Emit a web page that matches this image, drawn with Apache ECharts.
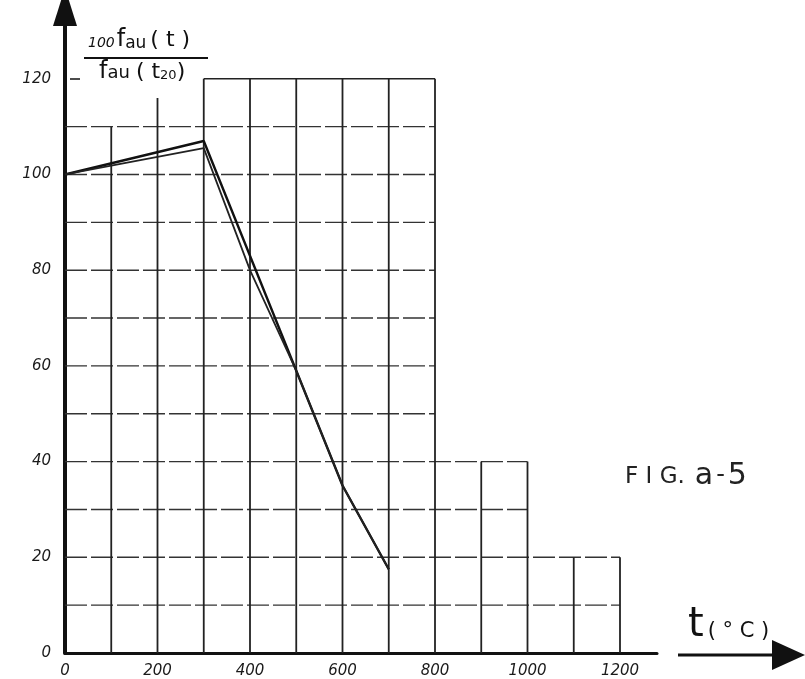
<!DOCTYPE html>
<html>
<head>
<meta charset="utf-8">
<script src="https://cdn.jsdelivr.net/npm/echarts@6/dist/echarts.min.js"></script>
<style>html,body{margin:0;padding:0;background:#fff}#c{width:805px;height:679px}</style>
</head>
<body>
<div id="c"></div>
<script>
// ---- data ----
const temps1 = [0, 300, 600, 700];
const ratio1 = [100, 107, 35, 17.5];
const temps2 = [0, 300, 400, 500, 600, 700];
const ratio2 = [100, 105.5, 80, 59, 35, 17.5];

const xTicks = [0, 200, 400, 600, 800, 1000, 1200];
const yTicks = [0, 20, 40, 60, 80, 100, 120];

// grid drawn on the sheet (stepped outline)
const vLineX   = [100, 200, 300, 400, 500, 600, 700, 800, 900, 1000, 1100, 1200];
const vLineTop = [110, 116, 120, 120, 120, 120, 120, 120, 40, 40, 20, 20];
const hLineY    = [10, 20, 30, 40, 50, 60, 70, 80, 90, 100, 110];
const hLineFrom = [0, 0, 0, 0, 0, 0, 0, 0, 0, 0, 0];
const hLineTo   = [1200, 1200, 1000, 1000, 800, 800, 800, 800, 800, 800, 800];
const topLineY = [120], topLineFrom = [300], topLineTo = [800];

const s1 = temps1.map((t, i) => [t, ratio1[i]]);
const s2 = temps2.map((t, i) => [t, ratio2[i]]);
const vSeg = vLineX.map((x, i) => [x, 0, x, vLineTop[i]]);
const hSeg = hLineY.map((y, i) => [hLineFrom[i], y, hLineTo[i], y]);
const tSeg = topLineY.map((y, i) => [topLineFrom[i], y, topLineTo[i], y]);

function segRender(dash, width, color) {
  return function (params, api) {
    const p1 = api.coord([api.value(0), api.value(1)]);
    const p2 = api.coord([api.value(2), api.value(3)]);
    return {
      type: 'line',
      shape: { x1: p1[0], y1: p1[1], x2: p2[0], y2: p2[1] },
      style: { stroke: color, lineWidth: width, lineDash: dash }
    };
  };
}

const chart = echarts.init(document.getElementById('c'));
const labelFont = { fontFamily: 'DejaVu Sans', fontStyle: 'italic', fontSize: 15, color: '#1a1a1a' };

chart.setOption({
  animation: false,
  backgroundColor: '#ffffff',
  grid: { left: 65, right: 148, top: 7, bottom: 26, containLabel: false },
  xAxis: {
    type: 'value', min: 0, max: 1280, interval: 200,
    axisLine: { show: true, lineStyle: { color: '#111', width: 3 } },
    axisTick: { show: false },
    splitLine: { show: false },
    axisLabel: Object.assign({ margin: 11, showMaxLabel: false,
      formatter: v => (xTicks.indexOf(v) >= 0 ? String(v) : '') }, labelFont)
  },
  yAxis: {
    type: 'value', min: 0, max: 135, interval: 20,
    axisLine: { show: true, symbol: ['none', 'triangle'], symbolSize: [24, 38],
      lineStyle: { color: '#111', width: 4 } },
    axisTick: { show: false },
    splitLine: { show: false },
    axisLabel: Object.assign({ margin: 14, showMaxLabel: false,
      formatter: v => (yTicks.indexOf(v) >= 0 ? String(v) : '') }, labelFont)
  },
  series: [
    { type: 'custom', renderItem: segRender([22, 4], 1.4, '#333'), data: hSeg, silent: true, z: 1,
      encode: { x: [0, 2], y: [1, 3] } },
    { type: 'custom', renderItem: segRender(null, 1.6, '#222'), data: tSeg, silent: true, z: 1,
      encode: { x: [0, 2], y: [1, 3] } },
    { type: 'custom', renderItem: segRender(null, 1.8, '#222'), data: vSeg, silent: true, z: 1,
      encode: { x: [0, 2], y: [1, 3] } },
    { type: 'line', data: s1, symbol: 'none', z: 3,
      lineStyle: { color: '#111', width: 2.4 } },
    { type: 'line', data: s2, symbol: 'none', z: 3,
      lineStyle: { color: '#222', width: 1.8 } }
  ],
  graphic: [
    { type: 'text', left: 88, top: 28, style: {
        rich: {
          n: { fontFamily: 'DejaVu Sans', fontSize: 14, fontStyle: 'italic', fill: '#111', padding: [6, 2, 0, 0] },
          f: { fontFamily: 'DejaVu Sans', fontSize: 24, fill: '#111' },
          s: { fontFamily: 'DejaVu Sans', fontSize: 17, fill: '#111', padding: [7, 4, 0, 0] },
          p: { fontFamily: 'DejaVu Sans', fontSize: 22, fill: '#111' }
        },
        text: '{n|100}{f|f}{s|au}{p|( t )}' } },
    { type: 'line', shape: { x1: 84, y1: 58, x2: 208, y2: 58 }, style: { stroke: '#111', lineWidth: 2 } },
    { type: 'text', left: 99, top: 60, style: {
        rich: {
          f: { fontFamily: 'DejaVu Sans', fontSize: 24, fill: '#111' },
          s: { fontFamily: 'DejaVu Sans', fontSize: 18, fill: '#111', padding: [2, 6, 0, 0] },
          p: { fontFamily: 'DejaVu Sans', fontSize: 22, fill: '#111' },
          b: { fontFamily: 'DejaVu Sans', fontSize: 13, fill: '#111', padding: [7, 0, 0, 0] }
        },
        text: '{f|f}{s|au}{p|( t}{b|20}{p|)}' } },
    { type: 'line', shape: { x1: 70, y1: 79, x2: 80, y2: 79 }, style: { stroke: '#111', lineWidth: 1.5 } },
    { type: 'text', left: 625, top: 461, style: {
        rich: {
          a: { fontFamily: 'DejaVu Sans', fontSize: 23, fill: '#222', padding: [2, 10, 0, 0] },
          b: { fontFamily: 'DejaVu Sans', fontSize: 30, fill: '#222' },
          h: { fontFamily: 'DejaVu Sans', fontSize: 24, fill: '#222', padding: [0, 3, 0, 3] }
        },
        text: '{a|F I G.}{b|a}{h|-}{b|5}' } },
    { type: 'text', left: 688, top: 606, style: {
        rich: {
          t: { fontFamily: 'DejaVu Sans', fontSize: 40, fill: '#111' },
          c: { fontFamily: 'DejaVu Sans', fontSize: 21, fill: '#111', padding: [12, 0, 0, 4] }
        },
        text: '{t|t}{c|( ° C )}' } },
    { type: 'line', shape: { x1: 678, y1: 655, x2: 780, y2: 655 }, style: { stroke: '#111', lineWidth: 3 } },
    { type: 'polygon', shape: { points: [[772, 640], [805, 655], [772, 670]] }, style: { fill: '#111' } }
  ]
});
</script>
</body>
</html>
